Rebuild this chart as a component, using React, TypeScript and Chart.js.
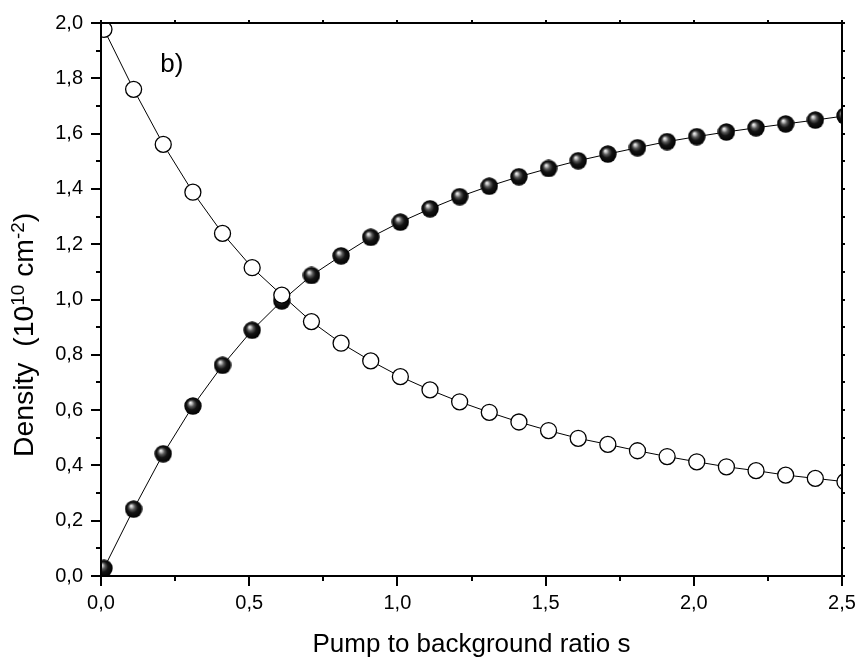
import { useEffect, useRef } from 'react';
import { Chart, registerables } from 'chart.js';

Chart.register(...registerables);

const FONT = "'Liberation Sans', Arial, Helvetica, sans-serif";

// Pump to background ratio s
const xValues = [
  0.01, 0.11, 0.21, 0.31, 0.41, 0.51, 0.61, 0.71, 0.81, 0.91,
  1.01, 1.11, 1.21, 1.31, 1.41, 1.51, 1.61, 1.71, 1.81, 1.91,
  2.01, 2.11, 2.21, 2.31, 2.41, 2.51,
];

// Open circles (decreasing density)
const openValues = [
  1.977, 1.760, 1.561, 1.388, 1.239, 1.115, 1.016, 0.920, 0.842, 0.778,
  0.721, 0.673, 0.630, 0.592, 0.557, 0.526, 0.498, 0.476, 0.453, 0.432,
  0.413, 0.395, 0.381, 0.365, 0.353, 0.341,
];

// Filled spheres (increasing density)
const filledValues = [
  0.028, 0.242, 0.442, 0.615, 0.762, 0.889, 0.995, 1.087, 1.158, 1.225,
  1.280, 1.328, 1.372, 1.410, 1.444, 1.474, 1.502, 1.526, 1.549, 1.571,
  1.589, 1.606, 1.621, 1.635, 1.649, 1.664,
];

const xMajorTicks = [0, 0.5, 1.0, 1.5, 2.0, 2.5];
const xMinorTicks = [0.25, 0.75, 1.25, 1.75, 2.25];
const yMajorTicks = [0, 0.2, 0.4, 0.6, 0.8, 1.0, 1.2, 1.4, 1.6, 1.8, 2.0];
const yMinorTicks = [0.1, 0.3, 0.5, 0.7, 0.9, 1.1, 1.3, 1.5, 1.7, 1.9];

const xTitle = 'Pump to background ratio s';
const yTitleParts = [
  { text: 'Density  (10', sup: false },
  { text: '10', sup: true },
  { text: ' cm', sup: false },
  { text: '-2', sup: true },
  { text: ')', sup: false },
];
const panelLabel = 'b)';
const panelLabelX = 0.2;
const panelLabelY = 1.823;

const fmt = (v: number) => v.toFixed(1).replace('.', ',');

function makeSphere(d: number): HTMLCanvasElement {
  const c = document.createElement('canvas');
  c.width = d;
  c.height = d;
  const g = c.getContext('2d')!;
  const r = d / 2;
  const grad = g.createRadialGradient(r * 0.7, r * 0.62, 0, r, r, r);
  grad.addColorStop(0, '#f8f8f8');
  grad.addColorStop(0.14, '#c8c8c8');
  grad.addColorStop(0.34, '#585858');
  grad.addColorStop(0.58, '#141414');
  grad.addColorStop(1, '#000000');
  g.fillStyle = grad;
  g.beginPath();
  g.arc(r, r, r - 0.3, 0, Math.PI * 2);
  g.fill();
  return c;
}

const framePlugin = {
  id: 'frameAndLabels',
  afterDatasetsDraw(chart: any) {
    const { ctx, chartArea: a, scales } = chart;
    const xs = scales.x;
    const ys = scales.y;
    ctx.save();
    ctx.strokeStyle = '#000';
    ctx.lineCap = 'butt';
    ctx.lineWidth = 2;
    ctx.strokeRect(a.left, a.top, a.right - a.left, a.bottom - a.top);

    ctx.beginPath();
    for (const v of yMajorTicks) {
      const p = Math.round(ys.getPixelForValue(v));
      ctx.moveTo(a.left, p); ctx.lineTo(a.left - 10, p);
      ctx.moveTo(a.right, p); ctx.lineTo(a.right + 3, p);
    }
    for (const v of yMinorTicks) {
      const p = Math.round(ys.getPixelForValue(v));
      ctx.moveTo(a.left, p); ctx.lineTo(a.left - 5, p);
      ctx.moveTo(a.right, p); ctx.lineTo(a.right + 3, p);
    }
    for (const v of xMajorTicks) {
      const p = Math.round(xs.getPixelForValue(v));
      ctx.moveTo(p, a.bottom); ctx.lineTo(p, a.bottom + 10);
      ctx.moveTo(p, a.top); ctx.lineTo(p, a.top - 3);
    }
    for (const v of xMinorTicks) {
      const p = Math.round(xs.getPixelForValue(v));
      ctx.moveTo(p, a.bottom); ctx.lineTo(p, a.bottom + 5);
      ctx.moveTo(p, a.top); ctx.lineTo(p, a.top - 3);
    }
    ctx.stroke();

    // panel label
    ctx.fillStyle = '#000';
    ctx.font = `26px ${FONT}`;
    ctx.textAlign = 'left';
    ctx.textBaseline = 'alphabetic';
    ctx.fillText(panelLabel, xs.getPixelForValue(panelLabelX), ys.getPixelForValue(panelLabelY));

    // y axis title with superscripts
    ctx.translate(33, 457);
    ctx.rotate(-Math.PI / 2);
    ctx.scale(1.05, 1);
    let pos = 0;
    for (const part of yTitleParts) {
      ctx.font = part.sup ? `18px ${FONT}` : `27px ${FONT}`;
      ctx.fillText(part.text, pos, part.sup ? -9 : 0);
      pos += ctx.measureText(part.text).width;
    }
    ctx.restore();
  },
};

export default function App() {
  const ref = useRef<HTMLCanvasElement | null>(null);

  useEffect(() => {
    if (!ref.current) return;
    const sphere = makeSphere(18);
    const chart = new Chart(ref.current, {
      type: 'line',
      data: {
        datasets: [
          {
            label: 'open',
            data: xValues.map((x, i) => ({ x, y: openValues[i] })),
            borderColor: '#000',
            borderWidth: 1,
            pointStyle: 'circle',
            pointRadius: 8,
            pointBackgroundColor: '#fff',
            pointBorderColor: '#000',
            pointBorderWidth: 1.3,
            tension: 0,
            fill: false,
          },
          {
            label: 'filled',
            data: xValues.map((x, i) => ({ x, y: filledValues[i] })),
            borderColor: '#000',
            borderWidth: 1,
            pointStyle: sphere as any,
            pointRadius: 9,
            pointBorderWidth: 0,
            tension: 0,
            fill: false,
          },
        ],
      },
      options: {
        responsive: false,
        animation: false,
        events: [],
        layout: { padding: { left: 0, right: 19, top: 23, bottom: 0 } },
        plugins: {
          legend: { display: false },
          tooltip: { enabled: false },
        },
        scales: {
          x: {
            type: 'linear',
            min: 0,
            max: 2.5,
            grid: { display: false, drawTicks: false, tickLength: 0 },
            border: { display: false },
            ticks: {
              stepSize: 0.5,
              padding: 15,
              color: '#000',
              font: { family: FONT, size: 20 },
              maxRotation: 0,
              callback: (v: any) => fmt(Number(v)),
            },
            title: {
              display: true,
              text: xTitle,
              color: '#000',
              font: { family: FONT, size: 26 },
              padding: { top: 0, bottom: 2 },
            },
            afterFit: (s: any) => {
              s.height = 86;
              s.paddingLeft = 0;
              s.paddingRight = 0;
            },
          },
          y: {
            type: 'linear',
            min: 0,
            max: 2.0,
            grid: { display: false, drawTicks: false, tickLength: 0 },
            border: { display: false },
            ticks: {
              stepSize: 0.2,
              padding: 18,
              color: '#000',
              font: { family: FONT, size: 20 },
              callback: (v: any) => fmt(Number(v)),
            },
            title: { display: false },
            afterFit: (s: any) => {
              s.width = 101;
              s.paddingTop = 0;
              s.paddingBottom = 0;
            },
          },
        },
      },
      plugins: [framePlugin],
    });
    return () => chart.destroy();
  }, []);

  return (
    <div style={{ position: 'absolute', left: 0, top: 0, width: 861, height: 662, background: '#fff' }}>
      <canvas ref={ref} width={861} height={662} style={{ display: 'block' }} />
    </div>
  );
}
